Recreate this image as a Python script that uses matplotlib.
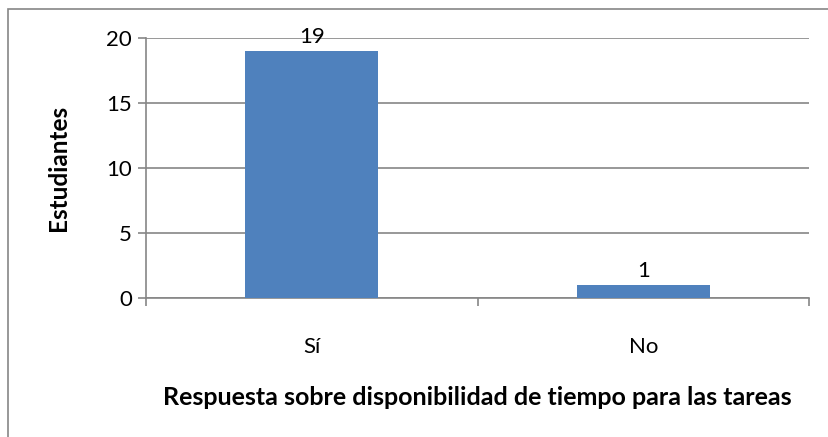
import matplotlib
matplotlib.use("Agg")
import matplotlib.pyplot as plt
from matplotlib.patches import Rectangle

# Datos
respuestas = ["Sí", "No"]
estudiantes = [19, 1]
y_ticks = [0, 5, 10, 15, 20]

plt.rcParams["font.family"] = ["Lato", "DejaVu Sans"]

fig = plt.figure(figsize=(8.29, 4.37), dpi=100)
ax = fig.add_axes([0.176, 0.318, 0.800, 0.595])

gris = "#868686"
x = list(range(len(respuestas)))
bars = ax.bar(x, estudiantes, width=0.4, color="#4F81BD", zorder=3)

for b, v in zip(bars, estudiantes):
    ax.annotate(str(v), (b.get_x() + b.get_width() / 2, v),
                xytext=(0, 3), textcoords="offset points",
                ha="center", va="bottom", fontsize=16, color="black")

ax.set_xlim(-0.5, len(respuestas) - 0.5)
ax.set_ylim(0, 20)
ax.set_yticks(y_ticks)
ax.yaxis.grid(True, color=gris, linewidth=1.2, zorder=0)

ax.set_xticks(x)
ax.set_xticklabels(respuestas, fontsize=16)
ax.set_xticks([-0.5, 0.5, 1.5], minor=True)
ax.tick_params(axis="x", which="major", length=0, pad=28)
ax.tick_params(axis="x", which="minor", length=6, color=gris, width=1.2)
ax.tick_params(axis="y", length=6, color=gris, width=1.2, labelsize=16, pad=4)

for s in ["top", "right"]:
    ax.spines[s].set_visible(False)
for s in ["left", "bottom"]:
    ax.spines[s].set_color(gris)
    ax.spines[s].set_linewidth(1.2)

ax.set_ylabel("Estudiantes", fontsize=17.5, fontweight="bold", labelpad=26)
ax.set_xlabel("Respuesta sobre disponibilidad de tiempo para las tareas",
              fontsize=18, fontweight="bold", labelpad=21)

# borde del gráfico
fig.patches.append(Rectangle((8 / 829, -0.1), 1.1, 1 - 9 / 437 + 0.1,
                             transform=fig.transFigure, fill=False,
                             edgecolor=gris, linewidth=1.2))

fig.savefig("out.png", dpi=100)
